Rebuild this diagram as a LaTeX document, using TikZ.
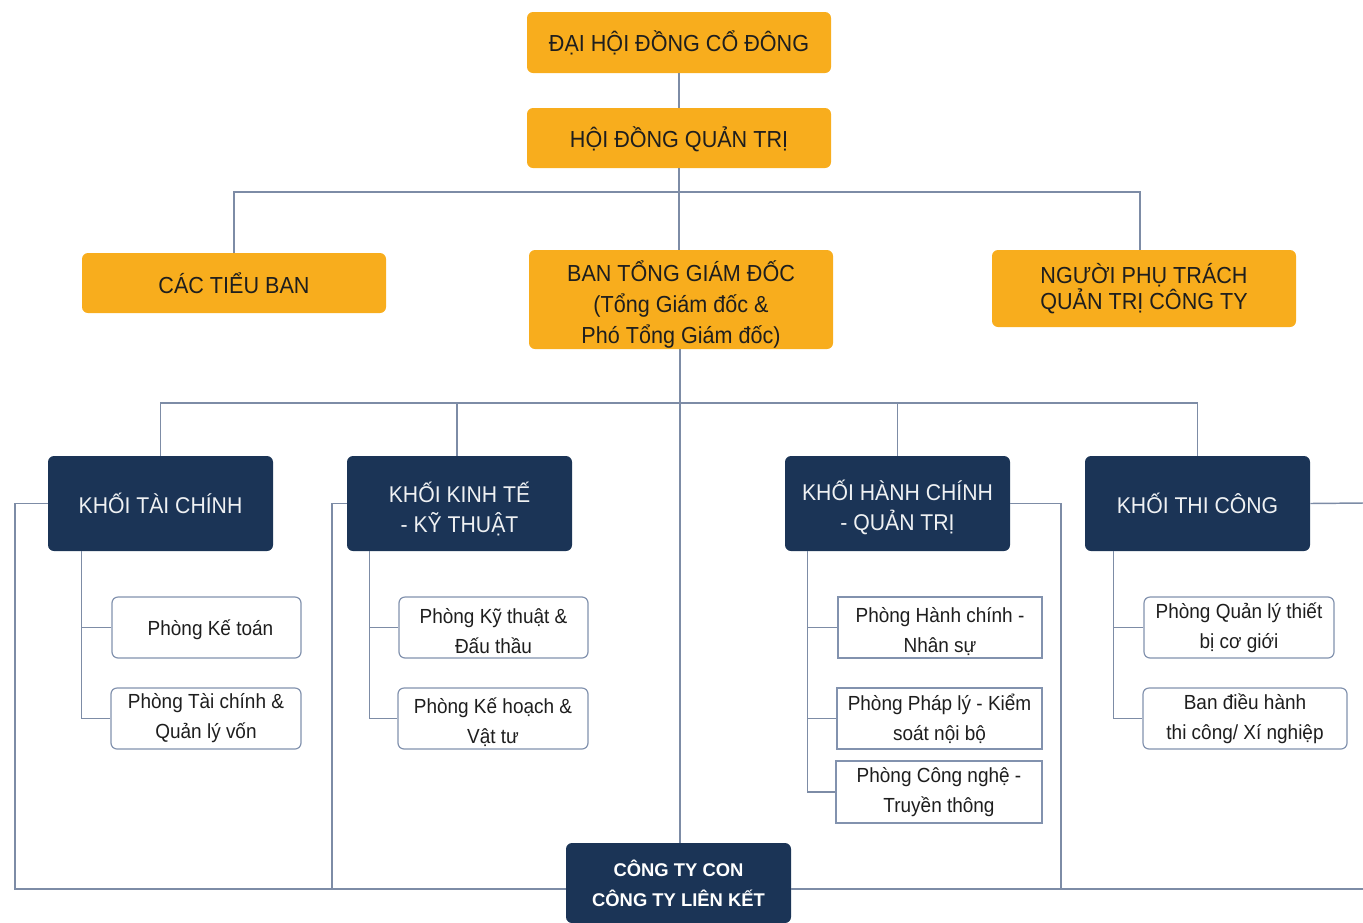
\documentclass[tikz,border=0pt]{standalone}
\usepackage{fontspec}
\setmainfont{Liberation Sans}[FakeStretch=0.93]
\newfontfamily\plainsans{Liberation Sans}
\usetikzlibrary{calc}
\definecolor{gold}{HTML}{F8AD1D}
\definecolor{navy}{HTML}{1B3456}
\definecolor{wire}{HTML}{7D8CA6}
\definecolor{frame}{HTML}{8292AE}
\definecolor{ink}{HTML}{1E1E1E}
% invisible prop that sets the height of a first text line
\newcommand{\toprise}[1]{\rule{0pt}{#1}}
\tikzset{
  x=0.75pt, y=-0.75pt,
  topbox/.style={fill=gold, draw=none, rounded corners=4.5pt, inner sep=0pt,
    minimum width=228pt, text=ink, align=center, font=\fontsize{17.4pt}{23.3pt}\selectfont},
  unitbox/.style={fill=navy, draw=none, rounded corners=4.5pt, inner sep=0pt,
    minimum width=168.75pt, minimum height=71.25pt, text=white!93!navy, align=center,
    font=\fontsize{17.1pt}{22.5pt}\selectfont},
  deptbox/.style={fill=white, draw=frame, line width=0.9pt, rounded corners=4.5pt, inner sep=0pt,
    minimum height=45.75pt, text=ink, align=center, font=\fontsize{15.3pt}{22.5pt}\selectfont},
  sqbox/.style={deptbox, rounded corners=0pt},
  link/.style={draw=wire, line width=1.1pt},
}
\begin{document}
\begin{tikzpicture}
\useasboundingbox (0,0) rectangle (1363,922);

% governing bodies
\node[topbox, minimum height=45.75pt] (dhdcd) at (679,42.5) {ĐẠI HỘI ĐỒNG CỔ ĐÔNG};
\node[topbox, minimum height=45pt] (hdqt) at (679,138) {\toprise{18pt}HỘI ĐỒNG QUẢN TRỊ};
\node[topbox, minimum height=45pt] (ctb) at (234,283) {CÁC TIỂU BAN};
\node[topbox, minimum height=74.25pt] (btgd) at (681,299.5) {\toprise{23.4pt}BAN TỔNG GIÁM ĐỐC\\(Tổng Giám đốc \&\\Phó Tổng Giám đốc)};
\node[topbox, minimum height=57.75pt, font=\fontsize{17.4pt}{19.5pt}\selectfont] (nptqt) at (1144,288.5) {NGƯỜI PHỤ TRÁCH\\QUẢN TRỊ CÔNG TY};

% divisions
\node[unitbox] (ktc) at (160.5,503.5) {KHỐI TÀI CHÍNH};
\node[unitbox] (kkt) at (459.5,503.5) {\toprise{23.5pt}KHỐI KINH TẾ\\- KỸ THUẬT};
\node[unitbox] (khc) at (897.5,503.5) {\toprise{20.5pt}KHỐI HÀNH CHÍNH\\- QUẢN TRỊ};
\node[unitbox] (ktcg) at (1197.5,503.5) {KHỐI THI CÔNG};

% subsidiaries (box runs on past the lower edge)
\node[unitbox, minimum height=60pt, text=white, font=\plainsans\bfseries\fontsize{13.8pt}{22.5pt}\selectfont] (ctcon) at (678.5,883) {CÔNG TY CON\\CÔNG TY LIÊN KẾT};

% departments
\node[deptbox, minimum width=141.75pt] (p1) at (206.5,627.5) {\hspace*{6pt}\toprise{15pt}Phòng Kế toán};
\node[deptbox, minimum width=142.5pt] (p2) at (206,718.5) {Phòng Tài chính \&\\Quản lý vốn};
\node[deptbox, minimum width=141.75pt] (p3) at (493.5,627.5) {\toprise{17pt}Phòng Kỹ thuật \&\\Đấu thầu};
\node[deptbox, minimum width=142.5pt] (p4) at (493,718.5) {\toprise{17pt}Phòng Kế hoạch \&\\Vật tư};
\node[sqbox, minimum width=153pt] (p5) at (940,627.5) {\toprise{17pt}Phòng Hành chính -\\Nhân sự};
\node[sqbox, minimum width=153.75pt] (p6) at (939.5,718.5) {Phòng Pháp lý - Kiểm\\soát nội bộ};
\node[sqbox, minimum width=154.5pt, minimum height=46.5pt] (p7) at (939,792) {Phòng Công nghệ -\\Truyền thông};
\node[deptbox, minimum width=142.5pt] (p8) at (1239,627.5) {Phòng Quản lý thiết\\bị cơ giới};
\node[deptbox, minimum width=153pt] (p9) at (1245,718.5) {Ban điều hành\\thi công/ Xí nghiệp};

% junction points
\coordinate (b1) at (679,192);
\coordinate (b2) at (680,403);
\coordinate (lb) at (15,889);
\coordinate (kb) at (332,889);
\coordinate (hb) at (1061,889);
\coordinate (re) at (1363,503);
\coordinate (rb) at (1363,889);

\begin{scope}[on background layer/.try]
% top chain
\draw[link] (dhdcd.south) -- (hdqt.north);
\draw[link] (hdqt.south) -- (hdqt.south |- btgd.north);
\draw[link] (ctb.north) |- (b1) -| ($(nptqt.north)+(-4,0)$);
% management to divisions and subsidiaries
\draw[link] (btgd.south -| b2) -- (b2 |- ctcon.north);
\draw[link] (ktc.north) |- (b2) -| (ktcg.north);
\draw[link] ($(kkt.north)+(-2.5,0)$) -- ++(0,-53);
\draw[link] (khc.north) -- ++(0,-53);
% division links to subsidiaries
\draw[link] (ktc.west) -| (lb) -- (ctcon.west |- lb);
\draw[link] (kkt.west) -| (kb);
\draw[link] (khc.east) -| (hb);
\draw[link] (ktcg.east) -- (re);
\draw[link] (ctcon.east |- rb) -- (rb);
% departments
\draw[link] ($(ktc.south west)+(34,0)$) coordinate (t1) |- (p2.west);
\draw[link] (p1.west) -- (p1.west -| t1);
\draw[link] ($(kkt.south west)+(23,0)$) coordinate (t2) |- (p4.west);
\draw[link] (p3.west) -- (p3.west -| t2);
\draw[link] ($(khc.south west)+(23,0)$) coordinate (t3) |- (p7.west);
\draw[link] (p5.west) -- (p5.west -| t3);
\draw[link] (p6.west) -- (p6.west -| t3);
\draw[link] ($(ktcg.south west)+(29,0)$) coordinate (t4) |- (p9.west);
\draw[link] (p8.west) -- (p8.west -| t4);
\end{scope}
\end{tikzpicture}
\end{document}
